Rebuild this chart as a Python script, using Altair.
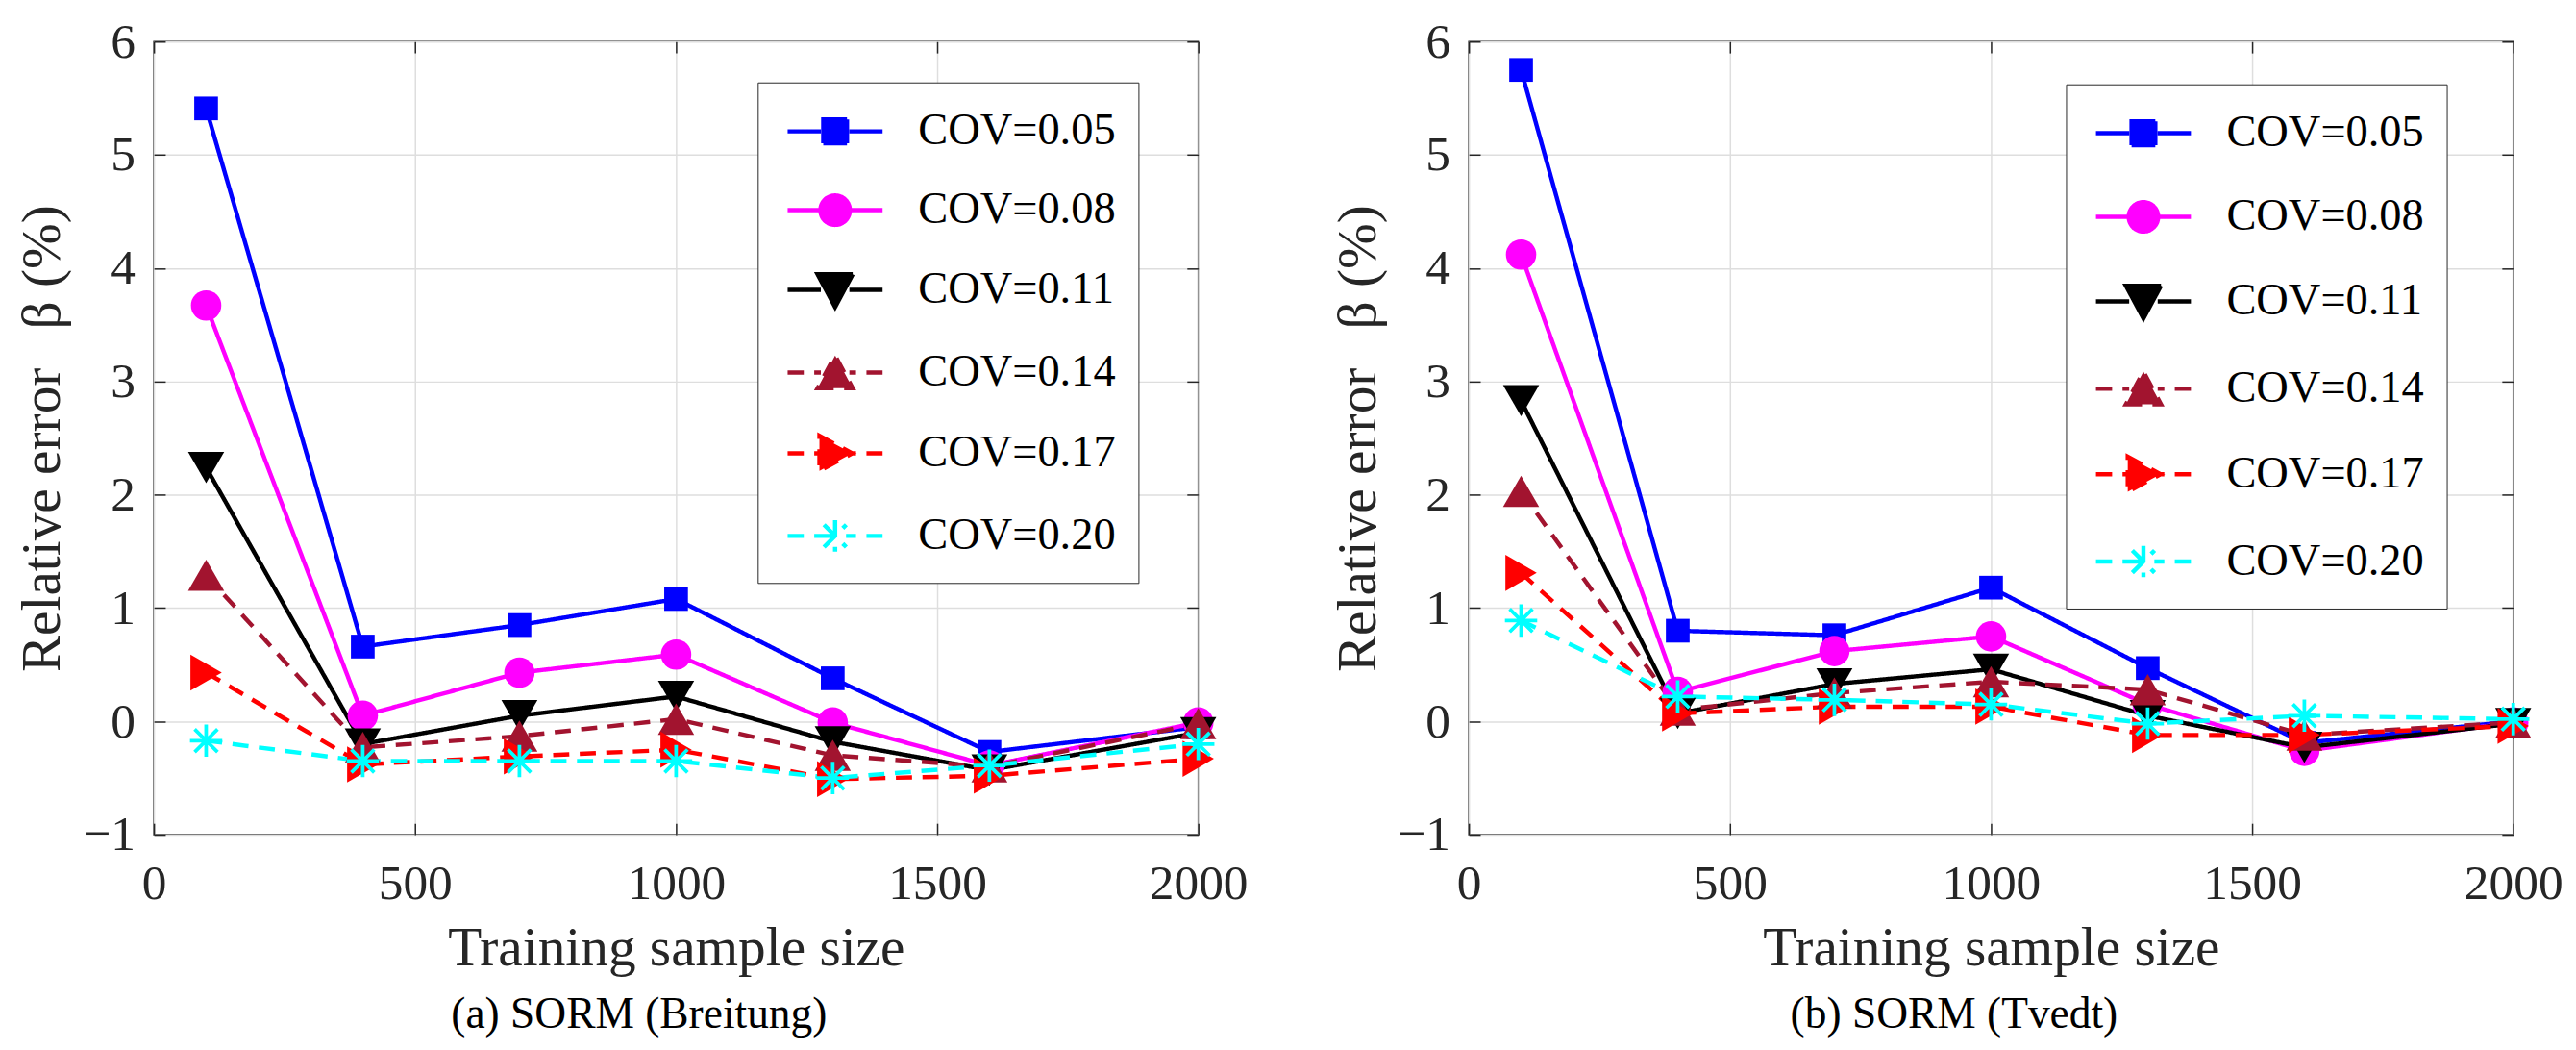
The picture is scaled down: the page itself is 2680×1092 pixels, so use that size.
import altair as alt
import pandas as pd

# ---------------- data ----------------
SAMPLE_SIZES = [100, 400, 700, 1000, 1300, 1600, 2000]
COV_LABELS = ["COV=0.05", "COV=0.08", "COV=0.11", "COV=0.14", "COV=0.17", "COV=0.20"]

# (a) SORM (Breitung)
breitung_005 = [5.41, 0.66, 0.85, 1.08, 0.38, -0.27, -0.05]
breitung_008 = [3.67, 0.05, 0.43, 0.59, -0.01, -0.39, -0.01]
breitung_011 = [2.24, -0.20, 0.05, 0.22, -0.18, -0.43, -0.10]
breitung_014 = [1.29, -0.23, -0.13, 0.02, -0.30, -0.40, -0.02]
breitung_017 = [0.43, -0.38, -0.31, -0.25, -0.51, -0.48, -0.33]
breitung_020 = [-0.17, -0.35, -0.35, -0.35, -0.50, -0.39, -0.20]

# (b) SORM (Tvedt)
tvedt_005 = [5.75, 0.80, 0.76, 1.18, 0.47, -0.19, 0.00]
tvedt_008 = [4.12, 0.26, 0.62, 0.75, 0.15, -0.26, -0.01]
tvedt_011 = [2.83, 0.07, 0.33, 0.46, 0.05, -0.23, -0.02]
tvedt_014 = [2.03, 0.10, 0.25, 0.35, 0.28, -0.12, -0.01]
tvedt_017 = [1.31, 0.07, 0.13, 0.13, -0.12, -0.12, -0.04]
tvedt_020 = [0.89, 0.22, 0.19, 0.15, -0.02, 0.05, 0.02]

X_TICKS = [0, 500, 1000, 1500, 2000]
Y_TICKS = [-1, 0, 1, 2, 3, 4, 5, 6]

# ---------------- styles ----------------
FONT = "Liberation Serif"
AX = "#262626"
COLORS = ["#0000ff", "#ff00ff", "#000000", "#a2142f", "#ff0000", "#00ffff"]
DASHES = [[1, 0], [1, 0], [1, 0], [17, 11], [17, 11], [17, 11]]
LINE_W = 4.5
ASTERISK = "M0,-1V1M-1,0H1M-0.71,-0.71L0.71,0.71M-0.71,0.71L0.71,-0.71"
# marker shape / size for each series (last one is the asterisk)
MARKERS = [("square", 625), ("circle", 1024), ("triangle-down", 1450),
           ("triangle-up", 1450), ("triangle-right", 1450), (ASTERISK, 1156)]

# legend glyphs: line segment + marker in one custom symbol path (unit = 25 px)
SEG = "M-2,0H-0.6M2,0H0.6"
LEGEND_PATHS = [
    SEG + "M-0.5,-0.5H0.5V0.5H-0.5Z",
    SEG + "M0.62,0C0.62,0.342,0.342,0.62,0,0.62C-0.342,0.62,-0.62,0.342,-0.62,0"
          "C-0.62,-0.342,-0.342,-0.62,0,-0.62C0.342,-0.62,0.62,-0.342,0.62,0Z",
    SEG + "M-0.74,-0.66L0.74,-0.66L0,0.72Z",
    SEG + "M-0.74,0.66L0.74,0.66L0,-0.72Z",
    SEG + "M-0.66,-0.74L0.72,0L-0.66,0.74Z",
    SEG + "M0,-0.66V0.66M-0.66,0H0.66M-0.47,-0.47L0.47,0.47M-0.47,0.47L0.47,-0.47",
]


def build_frame(series):
    rows = []
    for label, vals in zip(COV_LABELS, series):
        for x, v in zip(SAMPLE_SIZES, vals):
            rows.append({"n": x, "err": v, "series": label})
    return pd.DataFrame(rows)


X_SCALE = alt.Scale(domain=[0, 2000], nice=False, zero=False)
Y_SCALE = alt.Scale(domain=[-1, 6], nice=False, zero=False)
COLOR_SCALE = alt.Scale(domain=COV_LABELS, range=COLORS)
DASH_SCALE = alt.Scale(domain=COV_LABELS, range=DASHES)


def panel(series, caption, legend_x, legend_y, row_pad):
    df = build_frame(series)
    color_nolegend = alt.Color("series:N", scale=COLOR_SCALE, legend=None)

    x_main = alt.X("n:Q", scale=X_SCALE, axis=alt.Axis(
        values=X_TICKS, format="d", title="Training sample size", offset=-12, tickSize=12,
        domain=False, grid=True, gridColor="#dedede", gridWidth=1.5, tickColor=AX, tickWidth=1.5,
        labelFont=FONT, labelFontSize=52, labelColor=AX, labelPadding=26, labelFlush=False,
        titleFont=FONT, titleFontSize=58, titleFontWeight="normal", titleColor=AX, titlePadding=14))
    y_main = alt.Y("err:Q", scale=Y_SCALE, axis=alt.Axis(
        values=Y_TICKS, format="d", title="Relative error\u2002\u2009β (%)", offset=-12, tickSize=12,
        domain=False, grid=True, gridColor="#dedede", gridWidth=1.5, tickColor=AX, tickWidth=1.5,
        labelFont=FONT, labelFontSize=52, labelColor=AX, labelPadding=20,
        titleFont=FONT, titleFontSize=58, titleFontWeight="normal", titleColor=AX, titlePadding=12))
    x_top = alt.X("n:Q", scale=X_SCALE, axis=alt.Axis(
        orient="top", values=X_TICKS, labels=False, title=None, offset=-12, tickSize=12,
        domain=False, grid=False, tickColor=AX, tickWidth=1.5))
    y_right = alt.Y("err:Q", scale=Y_SCALE, axis=alt.Axis(
        orient="right", values=Y_TICKS, labels=False, title=None, offset=-12, tickSize=12,
        domain=False, grid=False, tickColor=AX, tickWidth=1.5))
    x_none = alt.X("n:Q", scale=X_SCALE, axis=None)
    y_none = alt.Y("err:Q", scale=Y_SCALE, axis=None)

    # legend-only layer (draws no marks, only the legend)
    leg = alt.Legend(
        orient="none", legendX=legend_x, legendY=legend_y, title=None, padding=24,
        fillColor="white", strokeColor=AX, labelFont=FONT, labelFontSize=47, labelColor="black",
        labelLimit=600, symbolSize=2500, symbolStrokeWidth=LINE_W, symbolOffset=30, labelOffset=60,
        rowPadding=row_pad,
    )
    legend_layer = alt.Chart(df).transform_filter("false").mark_point(
        filled=True, size=2500, strokeWidth=LINE_W, opacity=1).encode(
        x=x_none, y=y_none,
        color=alt.Color("series:N", scale=COLOR_SCALE, legend=leg),
        stroke=alt.Stroke("series:N", scale=alt.Scale(domain=COV_LABELS, range=COLORS), legend=leg),
        shape=alt.Shape("series:N", scale=alt.Scale(domain=COV_LABELS, range=LEGEND_PATHS), legend=leg),
        strokeDash=alt.StrokeDash("series:N", scale=DASH_SCALE, legend=leg),
    )

    lines = alt.Chart(df).mark_line(strokeWidth=LINE_W).encode(
        x=x_main, y=y_main, color=color_nolegend,
        strokeDash=alt.StrokeDash("series:N", scale=DASH_SCALE, legend=None),
        detail="series:N",
    )

    layers = [legend_layer, lines]
    for i, (label, (shape, size)) in enumerate(zip(COV_LABELS, MARKERS)):
        is_star = shape == ASTERISK
        mark = alt.Chart(df).transform_filter(alt.datum.series == label).mark_point(
            shape=shape, size=size, filled=not is_star, opacity=1,
            strokeWidth=3.8 if is_star else 0)
        layers.append(mark.encode(
            x=x_top if i == 0 else x_none,
            y=y_right if i == 0 else y_none,
            color=color_nolegend,
        ))

    return alt.layer(*layers).resolve_axis(x="independent", y="independent").properties(
        width=1100, height=835,
        title=alt.TitleParams(text=caption, orient="bottom", anchor="middle", font=FONT,
                              fontSize=46, fontWeight="normal", color="black", offset=18, dx=-39),
    )


left = panel([breitung_005, breitung_008, breitung_011, breitung_014, breitung_017, breitung_020],
             "(a) SORM (Breitung)", 636, 43, 32)
right = panel([tvedt_005, tvedt_008, tvedt_011, tvedt_014, tvedt_017, tvedt_020],
              "(b) SORM (Tvedt)", 629, 45, 37)

chart = alt.hconcat(left, right, spacing=85).resolve_scale(
    color="independent", stroke="independent", shape="independent", strokeDash="independent"
).resolve_legend(
    color="independent", stroke="independent", shape="independent", strokeDash="independent"
).properties(
    padding={"left": 7, "top": 2, "right": 5, "bottom": 5},
    background="white",
).configure_view(stroke=AX, strokeWidth=1.5)

chart.save("out.html", embed_options={"renderer": "svg", "actions": False})
